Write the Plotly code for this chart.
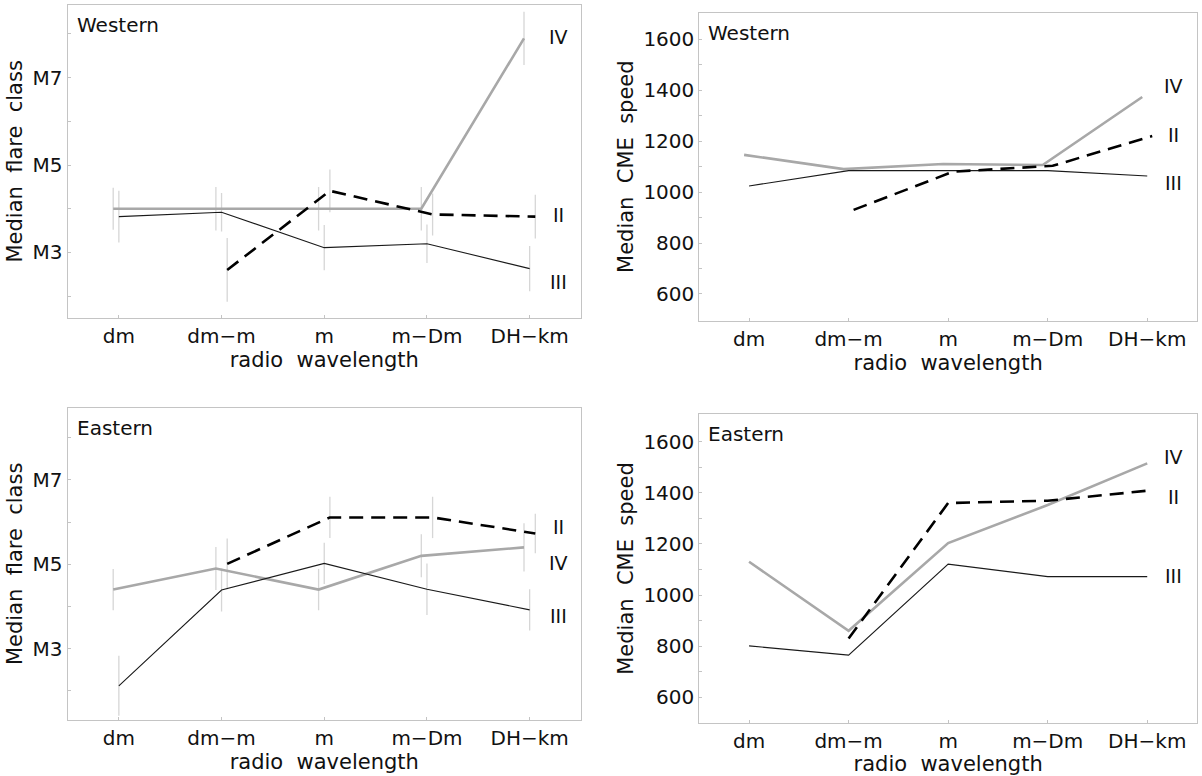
import plotly.graph_objects as go

categories = ["dm", "dm\u2212m", "m", "m\u2212Dm", "DH\u2212km"]

# Western, median flare class (in units of M)
w_flare_IV = [4.0, 4.0, 4.0, 4.0, 7.9]
w_flare_IV_err = [0.48, 0.5, 0.5, 0.5, 0.61]
w_flare_III = [3.82, 3.92, 3.11, 3.2, 2.63]
w_flare_III_err = [0.59, 0.44, 0.52, 0.44, 0.52]
w_flare_II = [None, 2.6, 4.41, 3.87, 3.82]
w_flare_II_err = [0, 0.73, 0.49, 0.48, 0.5]

# Eastern, median flare class
e_flare_IV = [4.4, 4.9, 4.4, 5.2, 5.4]
e_flare_IV_err = [0.49, 0.51, 0.49, 0.51, 0.57]
e_flare_III = [2.12, 4.39, 5.02, 4.41, 3.92]
e_flare_III_err = [0.71, 0.51, 0.49, 0.61, 0.49]
e_flare_II = [None, 5.01, 6.11, 6.11, 5.73]
e_flare_II_err = [0, 0.6, 0.49, 0.49, 0.47]

# Western, median CME speed
w_cme_IV = [1146, 1090, 1110, 1106, 1373]
w_cme_III = [1024, 1084, 1084, 1084, 1063]
w_cme_II = [None, 930, 1080, 1103, 1220]

# Eastern, median CME speed
e_cme_IV = [1130, 860, 1203, 1352, 1515]
e_cme_III = [801, 765, 1121, 1072, 1072]
e_cme_II = [None, 830, 1360, 1369, 1408]

flare_ticks = [2, 3, 4, 5, 6, 7, 8]
flare_ticktext = ["", "M3", "", "M5", "", "M7", ""]
cme_ticks = list(range(600, 1601, 100))
cme_ticktext = [str(v) if v % 200 == 0 else "" for v in cme_ticks]

FONT = "DejaVu Sans"
TXT = "#111111"
GREY = "#a8a8a8"
ERR = "#d6d6d6"
BOX = "#c4c4c4"

fig = go.Figure()

panels = [
    dict(ax="x", ay="y", IV=w_flare_IV, III=w_flare_III, II=w_flare_II,
         errs=(w_flare_IV_err, w_flare_III_err, w_flare_II_err), dodge=0.055,
         region="Western", lab={"IV": 7.93, "II": 3.86, "III": 2.32}, labx=4.276),
    dict(ax="x2", ay="y2", IV=w_cme_IV, III=w_cme_III, II=w_cme_II,
         errs=None, dodge=0.05,
         region="Western", lab={"IV": 1417, "II": 1224, "III": 1036}, labx=4.26),
    dict(ax="x3", ay="y3", IV=e_flare_IV, III=e_flare_III, II=e_flare_II,
         errs=(e_flare_IV_err, e_flare_III_err, e_flare_II_err), dodge=0.055,
         region="Eastern", lab={"II": 5.89, "IV": 5.04, "III": 3.78}, labx=4.276),
    dict(ax="x4", ay="y4", IV=e_cme_IV, III=e_cme_III, II=e_cme_II,
         errs=None, dodge=0.0,
         region="Eastern", lab={"IV": 1539, "II": 1385, "III": 1076}, labx=4.26),
]

annotations = []
for p in panels:
    d = p["dodge"]
    idx = list(range(len(categories)))
    xs = {"IV": [i - d for i in idx], "III": [i for i in idx], "II": [i + d for i in idx]}
    if p["errs"] is not None:
        for name, err in zip(["IV", "III", "II"], p["errs"]):
            fig.add_trace(go.Scatter(
                x=xs[name], y=p[name], mode="markers", xaxis=p["ax"], yaxis=p["ay"],
                marker=dict(size=1, color="rgba(0,0,0,0)"),
                error_y=dict(type="data", array=err, symmetric=True, color=ERR,
                             thickness=1.3, width=0),
                showlegend=False, hoverinfo="skip"))
    fig.add_trace(go.Scatter(x=xs["IV"], y=p["IV"], mode="lines", xaxis=p["ax"], yaxis=p["ay"],
                             line=dict(color=GREY, width=2.6), showlegend=False, name="IV"))
    fig.add_trace(go.Scatter(x=xs["III"], y=p["III"], mode="lines", xaxis=p["ax"], yaxis=p["ay"],
                             line=dict(color="#1a1a1a", width=1.1), showlegend=False, name="III"))
    fig.add_trace(go.Scatter(x=xs["II"], y=p["II"], mode="lines", xaxis=p["ax"], yaxis=p["ay"],
                             line=dict(color="#000000", width=2.6, dash="14px,8px"),
                             showlegend=False, name="II", connectgaps=False))
    for name, yv in p["lab"].items():
        annotations.append(dict(x=p["labx"], y=yv, xref=p["ax"], yref=p["ay"], text=name,
                                showarrow=False, xanchor="center", yanchor="middle",
                                font=dict(family=FONT, size=19, color=TXT)))
    annotations.append(dict(x=0, y=1, xref=p["ax"] + " domain", yref=p["ay"] + " domain",
                            text=p["region"], showarrow=False, xanchor="left", yanchor="middle",
                            xshift=7, yshift=-20, font=dict(family=FONT, size=20, color=TXT)))

W, H = 1202, 776
def dom(a, b, size):
    return [a / size, b / size]

xcommon = dict(tickmode="array", tickvals=list(range(len(categories))), ticktext=categories,
               range=[-0.5, 4.5], showline=True, mirror=True, linecolor=BOX, linewidth=1,
               ticks="inside", ticklen=3, tickcolor=BOX, showgrid=False, zeroline=False,
               tickfont=dict(family=FONT, size=20, color=TXT),
               title=dict(text="radio\u00a0\u00a0wavelength", font=dict(family=FONT, size=21, color=TXT),
                          standoff=4))
ycommon = dict(showline=True, mirror=True, linecolor=BOX, linewidth=1,
               ticks="inside", ticklen=3, tickcolor=BOX, showgrid=False, zeroline=False,
               tickfont=dict(family=FONT, size=20, color=TXT), tickmode="array")

flare_y = dict(ycommon, tickvals=flare_ticks, ticktext=flare_ticktext,
               title=dict(text="Median\u00a0\u00a0flare\u00a0\u00a0class",
                          font=dict(family=FONT, size=21, color=TXT), standoff=4))
cme_y = dict(ycommon, tickvals=cme_ticks, ticktext=cme_ticktext,
             title=dict(text="Median\u00a0\u00a0CME\u00a0\u00a0speed",
                        font=dict(family=FONT, size=21, color=TXT), standoff=4))

fig.update_layout(
    width=W, height=H, margin=dict(l=0, r=0, t=0, b=0),
    paper_bgcolor="white", plot_bgcolor="white", showlegend=False,
    xaxis=dict(xcommon, domain=dom(67.5, 581, W), anchor="y"),
    yaxis=dict(flare_y, domain=[1 - 318 / H, 1 - 4.7 / H], range=[1.5, 8.67], anchor="x"),
    xaxis2=dict(xcommon, domain=dom(699.3, 1197, W), anchor="y2"),
    yaxis2=dict(cme_y, domain=[1 - 320.7 / H, 1 - 12.7 / H], range=[495, 1704], anchor="x2"),
    xaxis3=dict(xcommon, domain=dom(67.5, 581, W), anchor="y3"),
    yaxis3=dict(flare_y, domain=[1 - 720 / H, 1 - 407.7 / H], range=[1.31, 8.71], anchor="x3"),
    xaxis4=dict(xcommon, domain=dom(699.3, 1197, W), anchor="y4"),
    yaxis4=dict(cme_y, domain=[1 - 722.7 / H, 1 - 414.3 / H], range=[500.6, 1707], anchor="x4"),
    annotations=annotations,
)

fig.write_html("out.html")
